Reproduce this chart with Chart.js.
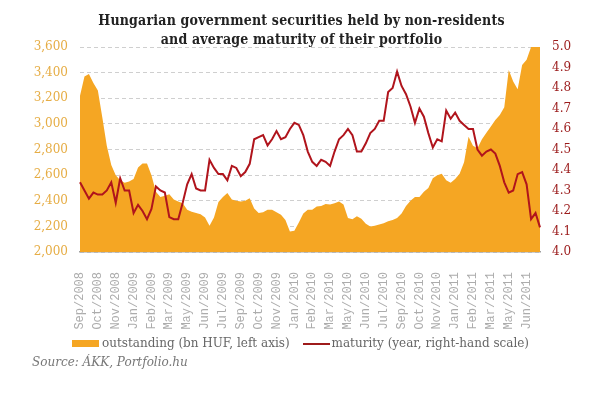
<!DOCTYPE html>
<html>
<head>
<meta charset="utf-8">
<script src="https://cdn.jsdelivr.net/npm/chart.js@4.4.1/dist/chart.umd.min.js"></script>
<style>
  body { margin: 0; background: #fff; }
  #wrap { position: relative; width: 603px; height: 394px; overflow: hidden; }
  #chart { position: absolute; left: 0; top: 0; }
  #title {
    position: absolute; left: 0; top: 11px; width: 603px; text-align: center;
    font-family: "DejaVu Serif Condensed", "DejaVu Serif", serif; font-weight: bold;
    font-size: 14px; letter-spacing: 0.2px; line-height: 19px; color: #222;
  }
  #legend {
    position: absolute; left: 72px; top: 336px; white-space: nowrap;
    font-family: "DejaVu Serif", serif; font-size: 12px; color: #666;
  }
  #legend span.box { display: inline-block; width: 27px; height: 7px; background: #f5a623; vertical-align: middle; margin-right: 3px; }
  #legend span.ln { display: inline-block; width: 27px; height: 2px; background: #9e1b1b; vertical-align: middle; margin: 0 2px 0 13px; }
  #source {
    position: absolute; left: 32px; top: 355px;
    font-family: "DejaVu Serif", serif; font-style: italic; font-size: 12px; color: #777;
  }
</style>
</head>
<body>
<div id="wrap">
  <canvas id="chart" width="603" height="394"></canvas>
  <div id="title">Hungarian government securities held by non-residents<br>and average maturity of their portfolio</div>
  <div id="legend"><span class="box"></span>outstanding (bn HUF, left axis)<span class="ln"></span>maturity (year, right-hand scale)</div>
  <div id="source">Source: ÁKK, Portfolio.hu</div>
</div>
<script>
// tengelyfeliratok (minden 4. adatpontnál egy)
var tickLabels = ['Sep/2008', 'Oct/2008', 'Nov/2008', 'Jan/2009', 'Feb/2009', 'Mar/2009', 'May/2009',
  'Jun/2009', 'Jul/2009', 'Sep/2009', 'Oct/2009', 'Nov/2009', 'Jan/2010', 'Feb/2010', 'Mar/2010',
  'May/2010', 'Jun/2010', 'Jul/2010', 'Sep/2010', 'Oct/2010', 'Nov/2010', 'Jan/2011', 'Feb/2011',
  'Mar/2011', 'May/2011', 'Jun/2011'];

// állomány, mrd HUF (bal tengely)
var outstanding = [
  3220, 3370, 3390, 3320, 3260, 3050, 2830, 2680, 2600, 2560,
  2540, 2550, 2570, 2660, 2690, 2690, 2600, 2470, 2430, 2440,
  2450, 2410, 2395, 2380, 2330, 2315, 2305, 2295, 2270, 2205,
  2270, 2390, 2430, 2460, 2410, 2400, 2395, 2400, 2420, 2340,
  2305, 2310, 2330, 2330, 2310, 2290, 2250, 2160, 2165, 2230,
  2300, 2330, 2330, 2355, 2360, 2375, 2370, 2380, 2395, 2370,
  2265, 2255, 2280, 2260, 2220, 2200, 2205, 2215, 2225, 2240,
  2250, 2265, 2300, 2360, 2400, 2430, 2430, 2470, 2500, 2575,
  2600, 2610, 2560, 2540, 2570, 2610, 2700, 2900, 2830, 2810,
  2880, 2930, 2980, 3030, 3070, 3130, 3420, 3330, 3270, 3460,
  3500, 3600, 3680, 3700
];

// átlagos futamidő, év (jobb tengely)
var maturity = [
  4.34, 4.30, 4.26, 4.29, 4.28, 4.28, 4.30, 4.34, 4.24, 4.36,
  4.30, 4.30, 4.19, 4.23, 4.20, 4.16, 4.21, 4.32, 4.30, 4.29,
  4.17, 4.16, 4.16, 4.24, 4.33, 4.38, 4.31, 4.30, 4.30, 4.45,
  4.41, 4.38, 4.38, 4.35, 4.42, 4.41, 4.37, 4.39, 4.43, 4.55,
  4.56, 4.57, 4.52, 4.55, 4.59, 4.55, 4.56, 4.60, 4.63, 4.62,
  4.57, 4.49, 4.44, 4.42, 4.45, 4.44, 4.42, 4.49, 4.55, 4.57,
  4.60, 4.57, 4.49, 4.49, 4.53, 4.58, 4.60, 4.64, 4.64, 4.78,
  4.80, 4.88, 4.81, 4.77, 4.71, 4.63, 4.70, 4.66, 4.58, 4.51,
  4.55, 4.54, 4.69, 4.65, 4.68, 4.64, 4.62, 4.60, 4.60, 4.50,
  4.47, 4.49, 4.50, 4.48, 4.42, 4.34, 4.29, 4.30, 4.38, 4.39,
  4.33, 4.16, 4.19, 4.12
];

var labels = outstanding.map(function (v, i) {
  return (i % 4 === 0 && tickLabels[i / 4]) ? tickLabels[i / 4] : '';
});

var tickFont = { family: '"DejaVu Serif", serif', size: 12 };

var chart = new Chart(document.getElementById('chart'), {
  type: 'line',
  data: {
    labels: labels,
    datasets: [{
      label: 'maturity (year, right-hand scale)',
      data: maturity,
      yAxisID: 'y1',
      borderColor: '#b0141c',
      borderWidth: 2,
      pointRadius: 0,
      fill: false,
      tension: 0,
      order: 0
    }, {
      label: 'outstanding (bn HUF, left axis)',
      data: outstanding,
      yAxisID: 'y',
      borderWidth: 0,
      borderColor: '#f5a623',
      backgroundColor: '#f5a623',
      pointRadius: 0,
      fill: 'start',
      tension: 0,
      order: 1
    }]
  },
  options: {
    responsive: false,
    animation: false,
    layout: { padding: { top: 47, left: 0, right: 0, bottom: 0 } },
    plugins: { legend: { display: false }, title: { display: false }, tooltip: { enabled: false } },
    scales: {
      x: {
        grid: { display: false, drawTicks: false },
        border: { display: true, color: '#a0a0a0', width: 1.5 },
        ticks: {
          autoSkip: false, minRotation: 90, maxRotation: 90, padding: 20,
          color: '#acacac', font: { family: '"Liberation Mono", monospace', size: 12 }
        },
        afterFit: function (s) { s.height = 142; }
      },
      y: {
        position: 'left', min: 2000, max: 3600,
        grid: { color: '#cfcfcf', drawTicks: false },
        border: { display: false, dash: [4, 3] },
        ticks: {
          stepSize: 200, padding: 12, color: '#e6ad45', font: tickFont,
          callback: function (v) { return v.toLocaleString('en-US'); }
        },
        afterFit: function (s) { s.width = 80; }
      },
      y1: {
        position: 'right', min: 4.0, max: 5.0,
        grid: { display: false, drawTicks: false },
        border: { display: false },
        ticks: {
          stepSize: 0.1, padding: 12, color: '#9b1b1b', font: tickFont,
          callback: function (v) { return v.toFixed(1); }
        },
        afterFit: function (s) { s.width = 63; }
      }
    }
  }
});
</script>
</body>
</html>
